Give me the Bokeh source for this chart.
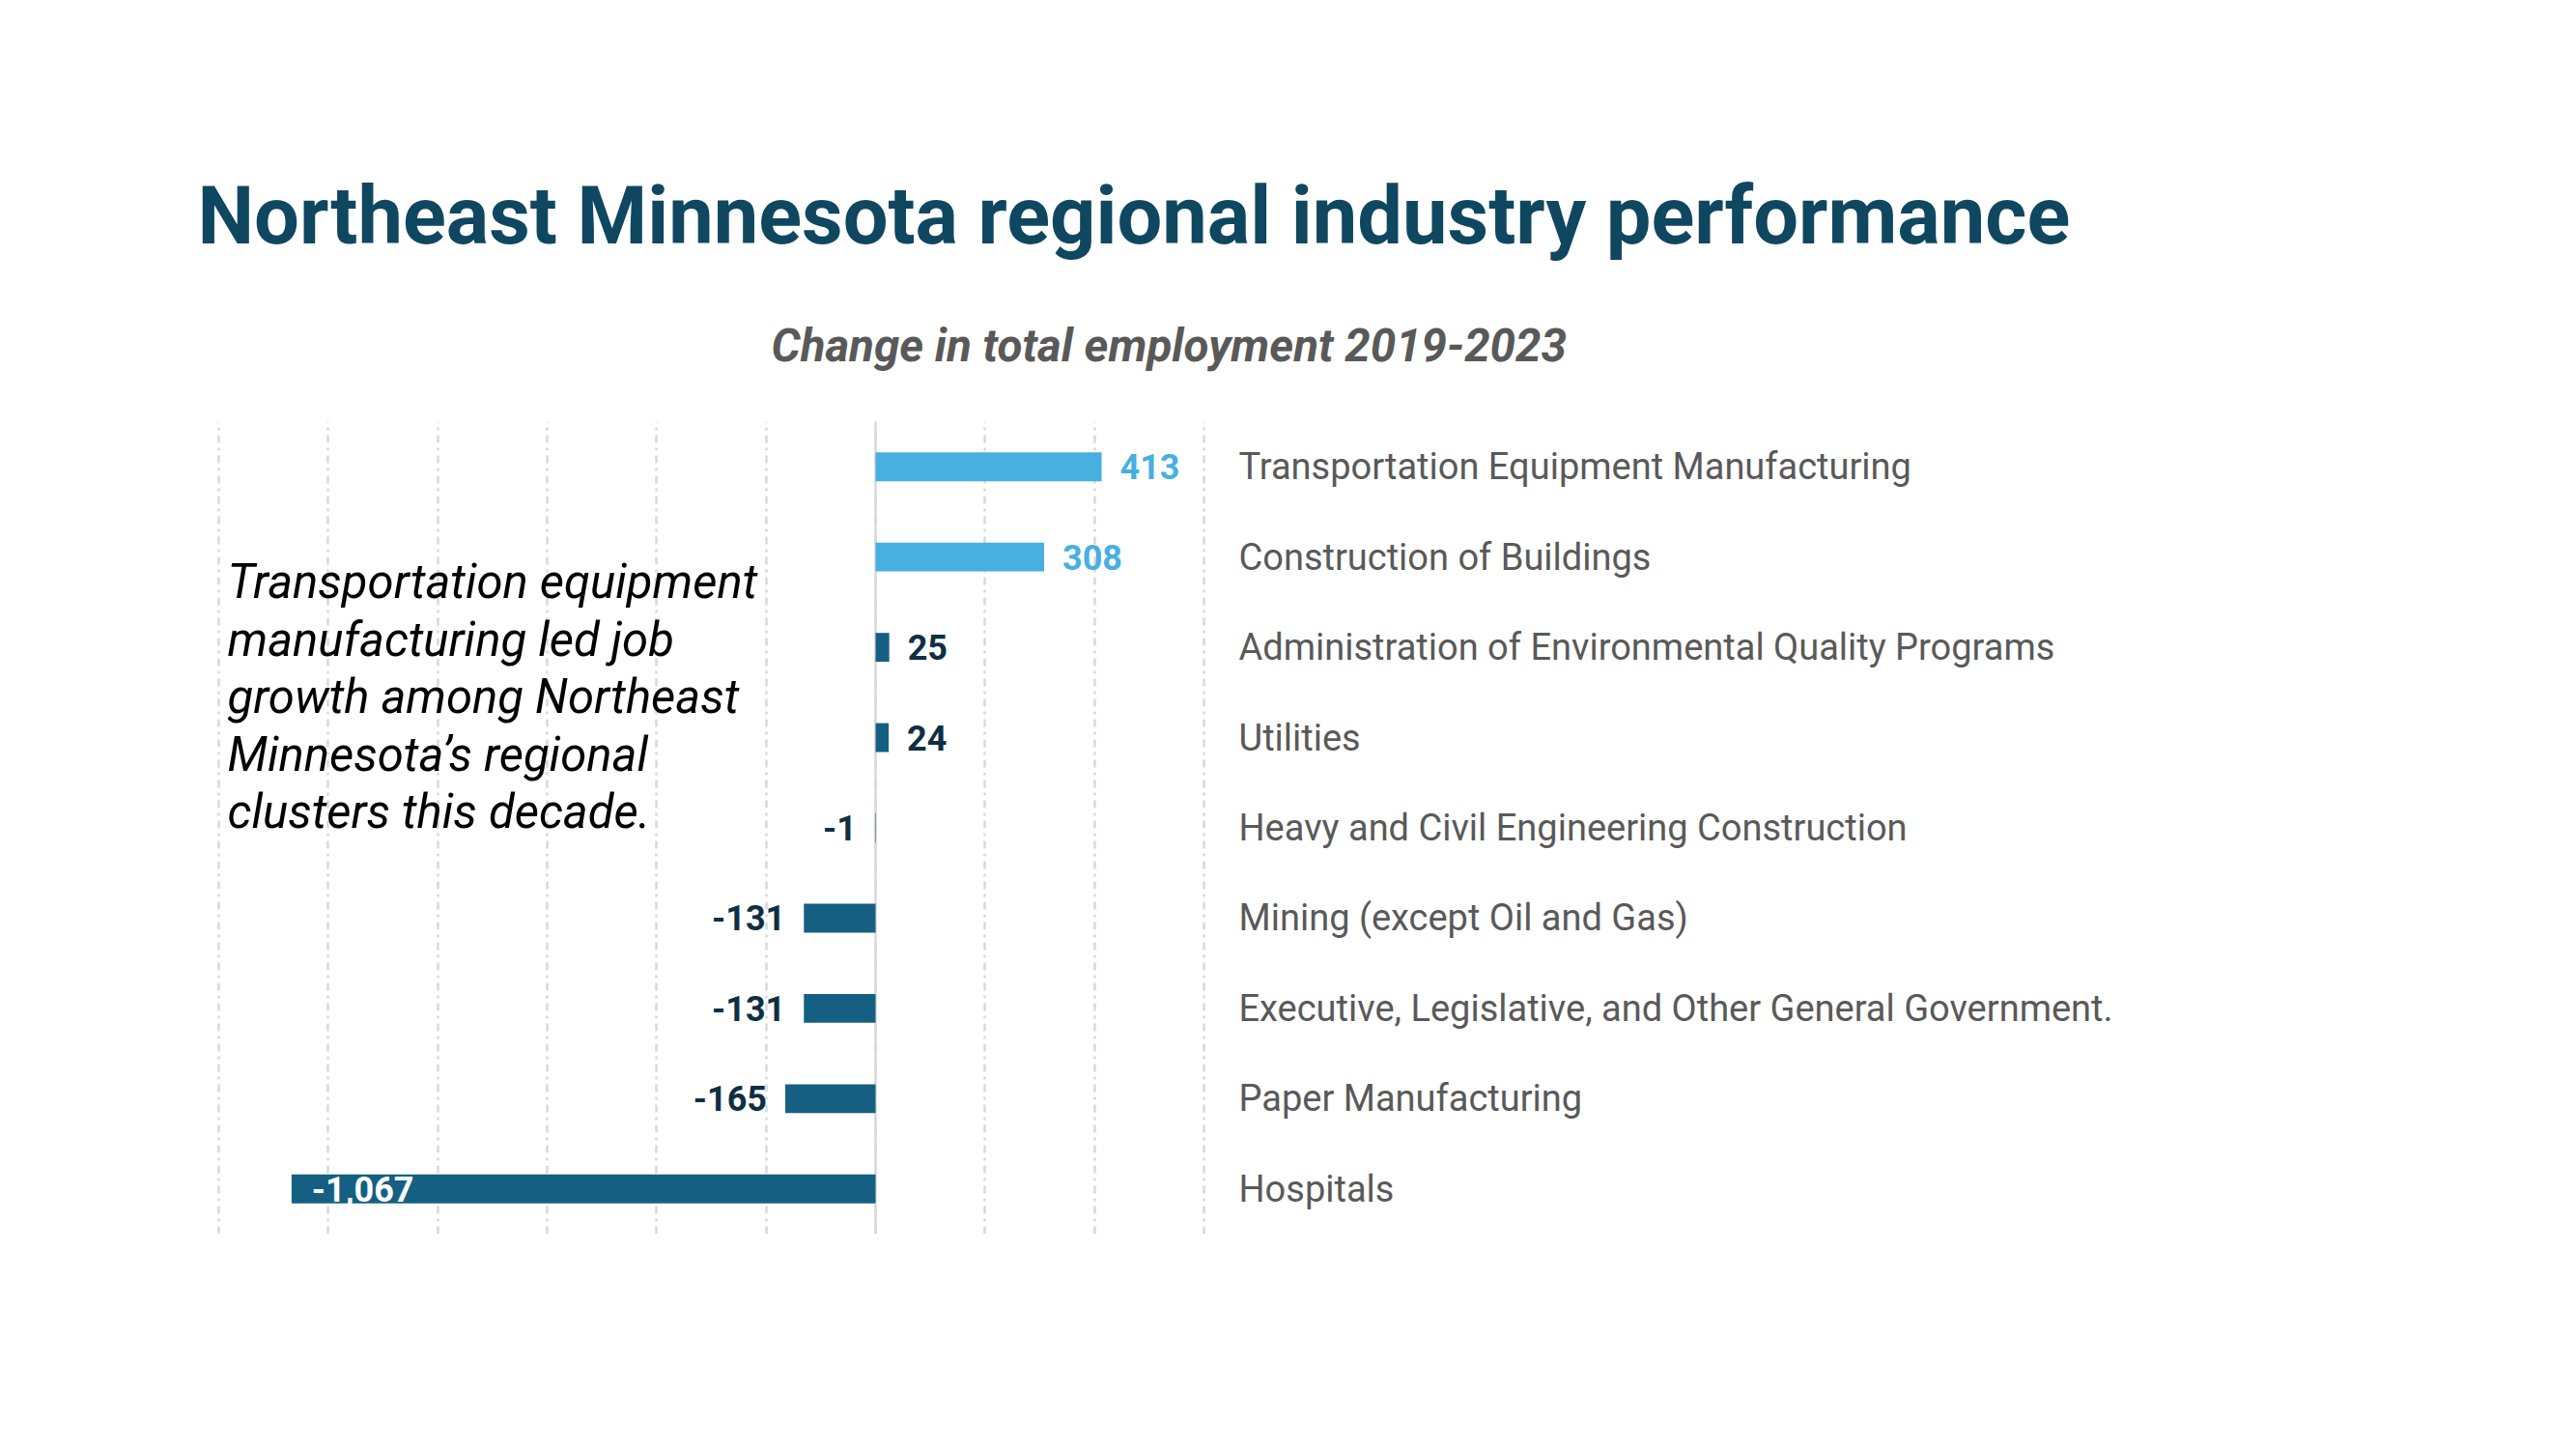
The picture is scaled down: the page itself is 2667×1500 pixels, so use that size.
from bokeh.plotting import figure
from bokeh.models import ColumnDataSource, FactorRange, Range1d, FixedTicker, Span, Label, Title
from bokeh.embed import file_html
from bokeh.resources import INLINE
from bokeh.core.properties import value

# ---------------- data ----------------
categories = [
    "Transportation Equipment Manufacturing",
    "Construction of Buildings",
    "Administration of Environmental Quality Programs",
    "Utilities",
    "Heavy and Civil Engineering Construction",
    "Mining (except Oil and Gas)",
    "Executive, Legislative, and Other General Government.",
    "Paper Manufacturing",
    "Hospitals",
]
changes = [413, 308, 25, 24, -1, -131, -131, -165, -1067]
highlighted = ["Transportation Equipment Manufacturing", "Construction of Buildings"]
label_inside = ["Hospitals"]
grid_ticks = [-1200, -1000, -800, -600, -400, -200, 0, 200, 400, 600]

title_text = "Northeast Minnesota regional industry performance"
subtitle_text = "Change in total employment 2019-2023"
note_lines = [
    "Transportation equipment",
    "manufacturing led job",
    "growth among Northeast",
    "Minnesota\u2019s regional",
    "clusters this decade.",
]

# ---------------- styles ----------------
LIGHT = "#47B0E0"
DARK = "#156082"
NAVY = "#0E2F44"
GRID = "#D9D9D9"
FONT = "Roboto"

W, H = 2651, 1484
PAD = 3                                   # frame pad beyond outer gridlines (px)
FL, FT, FR, FB = 226 - PAD, 436, 1246 + PAD, 1277   # frame edges in figure pixels
PPU = (1246 - 226) / 1800.0               # pixels per data unit
X0, X1 = -1200 - PAD / PPU, 600 + PAD / PPU

def px_x(x):
    return X0 + (x - FL) / PPU

def px_y(y):
    n = len(categories)
    return n - (y - FT) * n / (FB - FT)

colors, aligns, offsets, lcolors, texts = [], [], [], [], []
for c, v in zip(categories, changes):
    colors.append(LIGHT if c in highlighted else DARK)
    texts.append(f"{v:,}")
    if c in label_inside:
        aligns.append("left"); offsets.append(21); lcolors.append("#FFFFFF")
    elif v >= 0:
        aligns.append("left"); offsets.append(19)
        lcolors.append(LIGHT if c in highlighted else NAVY)
    else:
        aligns.append("right"); offsets.append(-19); lcolors.append(NAVY)

src = ColumnDataSource(dict(cat=categories, val=changes, color=colors,
                            txt=texts, align=aligns, off=offsets, lcolor=lcolors))

p = figure(width=W, height=H,
           x_range=Range1d(X0, X1),
           y_range=FactorRange(factors=list(reversed(categories))),
           y_axis_location="right", x_axis_location="below",
           output_backend="svg", toolbar_location=None,
           min_border_left=FL, min_border_right=W - FR,
           min_border_top=FT, min_border_bottom=H - FB)
p.title.visible = False
p.outline_line_color = None
p.background_fill_color = "white"
p.border_fill_color = "white"

p.xaxis.visible = False
p.xaxis.ticker = FixedTicker(ticks=grid_ticks)
p.xgrid.grid_line_color = GRID
p.xgrid.grid_line_width = 2.5
p.xgrid.grid_line_dash = "8 5 3 5"
p.ygrid.grid_line_color = None

ya = p.yaxis[0]
ya.axis_line_color = None
ya.major_tick_line_color = None
ya.minor_tick_line_color = None
ya.major_tick_in = 0
ya.major_tick_out = 0
ya.major_label_standoff = 33
ya.major_label_text_font = FONT
ya.major_label_text_font_size = "38px"
ya.major_label_text_color = "#595959"
ya.major_label_text_align = "left"

p.add_layout(Span(location=0, dimension="height", line_color=GRID,
                  line_width=2.5, level="underlay"))

p.hbar(y="cat", left=0, right="val", height=0.32, fill_color="color",
       line_color=None, source=src)

p.text(x="val", y="cat", text="txt", x_offset="off", text_align="align",
       text_baseline="middle", text_color="lcolor", text_font=value(FONT),
       text_font_style="bold", text_font_size="36px", source=src)

# titles (placed in the panel above the frame)
p.add_layout(Title(text=subtitle_text, align="left", offset=798 - FL,
                   text_font=FONT, text_font_style="bold italic", text_font_size="47.5px",
                   text_color="#595959", standoff=102), "above")
p.add_layout(Title(text=title_text, align="left", offset=204 - FL,
                   text_font=FONT, text_font_style="bold", text_font_size="83px",
                   text_color="#0F4761", standoff=10), "above")

for i, line in enumerate(note_lines):
    p.add_layout(Label(x=px_x(235), y=px_y(602 + i * 59.5), text=line,
                       text_font=FONT, text_font_style="italic", text_font_size="49px",
                       text_color="#000000", text_align="left", text_baseline="middle"))

open("out.html", "w").write(file_html(p, INLINE))
